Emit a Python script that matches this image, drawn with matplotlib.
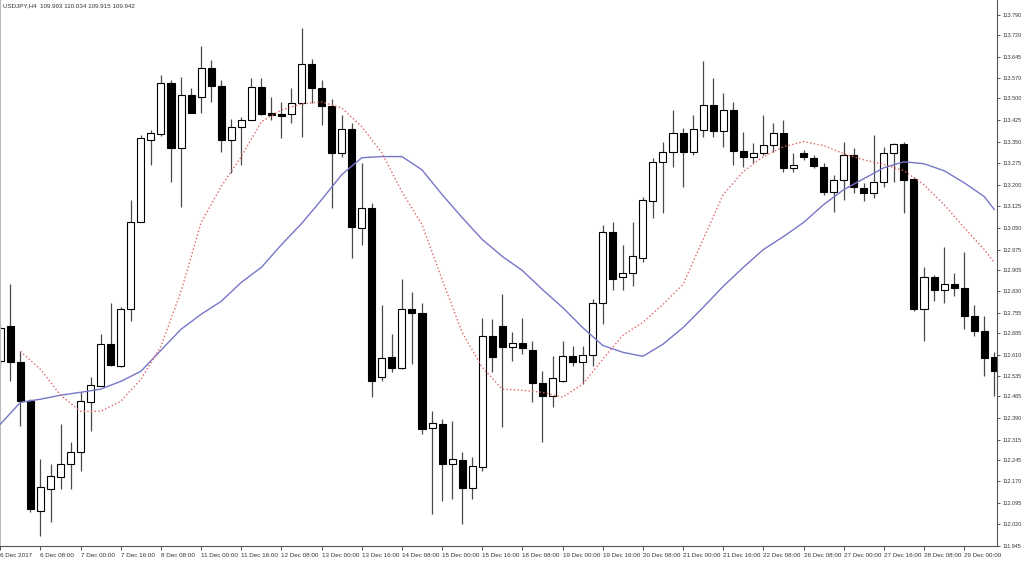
import matplotlib.pyplot as plt
import numpy as np

# USDJPY H4 candles, 6 Dec - 29 Dec 2017
opens = [112.587, 112.708, 112.583, 112.448, 112.066, 112.143, 112.184, 112.229, 112.271, 112.444,
         112.500, 112.646, 112.569, 112.767, 113.069, 113.356, 113.377, 113.554, 113.329, 113.512,
         113.506, 113.606, 113.544, 113.356, 113.402, 113.426, 113.540, 113.450, 113.447, 113.447,
         113.485, 113.620, 113.537, 113.474, 113.311, 113.395, 113.051, 113.121, 112.531, 112.600,
         112.562, 112.770, 112.756, 112.354, 112.368, 112.229, 112.243, 112.146, 112.219, 112.673,
         112.711, 112.635, 112.652, 112.625, 112.510, 112.465, 112.517, 112.604, 112.583, 112.607,
         112.791, 113.037, 112.878, 112.895, 112.947, 113.142, 113.280, 113.315, 113.381, 113.315,
         113.391, 113.478, 113.388, 113.460, 113.318, 113.298, 113.311, 113.339, 113.381, 113.259,
         113.311, 113.294, 113.263, 113.176, 113.218, 113.304, 113.190, 113.173, 113.211, 113.311,
         113.343, 113.221, 112.767, 112.881, 112.836, 112.857, 112.840, 112.743, 112.691, 112.600]
highs = [112.715, 112.854, 112.621, 112.455, 112.247, 112.229, 112.368, 112.306, 112.479, 112.531,
         112.680, 112.791, 112.774, 113.148, 113.374, 113.391, 113.582, 113.565, 113.575, 113.537,
         113.682, 113.634, 113.565, 113.429, 113.436, 113.571, 113.571, 113.506, 113.488, 113.537,
         113.745, 113.637, 113.565, 113.499, 113.443, 113.415, 113.277, 113.138, 112.784, 112.680,
         112.871, 112.826, 112.791, 112.413, 112.385, 112.379, 112.271, 112.254, 112.736, 112.732,
         112.819, 112.687, 112.736, 112.656, 112.552, 112.604, 112.656, 112.639, 112.639, 112.802,
         113.062, 113.069, 112.992, 113.069, 113.159, 113.294, 113.350, 113.460, 113.398, 113.443,
         113.630, 113.571, 113.519, 113.488, 113.384, 113.346, 113.443, 113.415, 113.426, 113.311,
         113.322, 113.304, 113.277, 113.235, 113.350, 113.329, 113.207, 113.374, 113.332, 113.346,
         113.350, 113.228, 112.916, 112.888, 112.985, 112.895, 112.965, 112.784, 112.743, 112.618]
lows = [112.569, 112.517, 112.361, 112.063, 111.980, 112.028, 112.143, 112.143, 112.205, 112.344,
        112.500, 112.569, 112.566, 112.725, 113.069, 113.270, 113.370, 113.211, 113.124, 113.450,
        113.450, 113.488, 113.315, 113.242, 113.270, 113.426, 113.443, 113.426, 113.363, 113.415,
        113.367, 113.485, 113.408, 113.121, 113.298, 112.947, 112.992, 112.462, 112.517, 112.548,
        112.559, 112.576, 112.333, 112.056, 112.101, 112.108, 112.021, 112.108, 112.205, 112.548,
        112.358, 112.587, 112.611, 112.444, 112.306, 112.427, 112.514, 112.569, 112.507, 112.569,
        112.715, 112.836, 112.836, 112.847, 112.933, 113.086, 113.103, 113.263, 113.194, 113.304,
        113.367, 113.367, 113.332, 113.270, 113.263, 113.277, 113.304, 113.315, 113.246, 113.246,
        113.287, 113.259, 113.166, 113.107, 113.148, 113.173, 113.142, 113.155, 113.194, 113.211,
        113.103, 112.760, 112.656, 112.795, 112.791, 112.812, 112.698, 112.673, 112.535, 112.465]
closes = [112.704, 112.583, 112.448, 112.073, 112.150, 112.188, 112.229, 112.271, 112.448, 112.503,
          112.646, 112.573, 112.767, 113.072, 113.363, 113.381, 113.554, 113.329, 113.512, 113.450,
          113.606, 113.544, 113.356, 113.402, 113.426, 113.540, 113.447, 113.443, 113.440, 113.485,
          113.620, 113.537, 113.474, 113.311, 113.395, 113.055, 113.121, 112.517, 112.597, 112.562,
          112.770, 112.756, 112.351, 112.372, 112.229, 112.247, 112.146, 112.222, 112.673, 112.600,
          112.635, 112.652, 112.632, 112.510, 112.465, 112.528, 112.604, 112.583, 112.607, 112.791,
          113.037, 112.874, 112.895, 112.951, 113.148, 113.280, 113.315, 113.381, 113.315, 113.395,
          113.478, 113.388, 113.460, 113.318, 113.298, 113.311, 113.339, 113.381, 113.259, 113.270,
          113.298, 113.266, 113.176, 113.218, 113.304, 113.194, 113.173, 113.211, 113.311, 113.343,
          113.218, 112.767, 112.881, 112.836, 112.857, 112.843, 112.743, 112.691, 112.597, 112.552]

# moving averages (bar index, price)
slow_ma_idx = list(range(0, 100, 2)) + [99]
slow_ma = [112.368, 112.444, 112.455, 112.469, 112.479, 112.490, 112.517, 112.552, 112.625, 112.698,
           112.750, 112.795, 112.861, 112.913, 112.992, 113.065, 113.148, 113.235, 113.294, 113.298,
           113.298, 113.252, 113.166, 113.086, 113.010, 112.951, 112.902, 112.836, 112.774, 112.704,
           112.642, 112.618, 112.604, 112.646, 112.704, 112.774, 112.847, 112.913, 112.975, 113.020,
           113.069, 113.131, 113.183, 113.221, 113.259, 113.280, 113.273, 113.249, 113.207, 113.159,
           113.114]
fast_ma_idx = list(range(2, 100, 2)) + [99]
fast_ma = [112.621, 112.559, 112.469, 112.413, 112.413, 112.448, 112.524, 112.639, 112.829, 113.069,
           113.194, 113.298, 113.419, 113.460, 113.481, 113.488, 113.467, 113.402, 113.311, 113.176,
           113.062, 112.871, 112.687, 112.566, 112.490, 112.486, 112.479, 112.462, 112.507, 112.594,
           112.677, 112.722, 112.784, 112.854, 113.010, 113.166, 113.246, 113.298, 113.332, 113.350,
           113.336, 113.308, 113.287, 113.270, 113.249, 113.200, 113.131, 113.051, 112.975, 112.930]

price_ticks = [113.790, 113.720, 113.645, 113.570, 113.500, 113.425, 113.350, 113.275, 113.200,
               113.125, 113.050, 112.975, 112.905, 112.830, 112.755, 112.685, 112.610, 112.535,
               112.465, 112.390, 112.315, 112.245, 112.170, 112.095, 112.020, 111.945]
time_labels = ['6 Dec 2017', '6 Dec 08:00', '7 Dec 00:00', '7 Dec 16:00', '8 Dec 08:00',
               '11 Dec 00:00', '11 Dec 16:00', '12 Dec 08:00', '13 Dec 00:00', '13 Dec 16:00',
               '14 Dec 08:00', '15 Dec 00:00', '15 Dec 16:00', '18 Dec 08:00', '19 Dec 00:00',
               '19 Dec 16:00', '20 Dec 08:00', '21 Dec 00:00', '21 Dec 16:00', '22 Dec 08:00',
               '26 Dec 08:00', '27 Dec 00:00', '27 Dec 16:00', '28 Dec 08:00', '29 Dec 00:00']
header = 'USDJPY,H4  109.993 110.034 109.915 109.942'

plt.rcParams['font.family'] = ['Liberation Sans', 'DejaVu Sans']

o = np.array(opens)
h = np.array(highs)
l = np.array(lows)
c = np.array(closes)
x = np.arange(len(o))
up = c >= o

fig = plt.figure(figsize=(10.24, 5.62), dpi=100)
ax = fig.add_axes([0, 16 / 562, 997 / 1024, 546 / 562])

ax.vlines(x, l, h, color='#4a4a4a', lw=0.9, zorder=1)
ax.bar(x, np.abs(c - o), bottom=np.minimum(o, c), width=0.7,
       color=np.where(up, 'white', 'black'), edgecolor='black', lw=0.8, zorder=2)

ax.plot(slow_ma_idx, slow_ma, '-', color='#7676c8', lw=1.0, zorder=3)
ax.plot(fast_ma_idx, fast_ma, ':', color='#e06464', lw=1.0, zorder=3)

ax.set_xlim(-0.03, 99.27)
ax.set_ylim(111.9485, 113.842)

ax.yaxis.tick_right()
ax.set_yticks(price_ticks)
ax.set_yticklabels([f'{v:.3f}' for v in price_ticks])
ax.tick_params(axis='y', direction='out', length=2.5, width=0.6, pad=1.5, labelsize=3.9,
               colors='#333333')

ax.set_xticks(range(0, 100, 4))
ax.set_xticklabels(time_labels, ha='left')
ax.tick_params(axis='x', direction='out', length=3, width=0.6, pad=2, labelsize=4.5,
               colors='#333333')

ax.spines['top'].set_visible(False)
ax.spines['left'].set_color('#bbbbbb')
ax.spines['right'].set_color('#555555')
ax.spines['bottom'].set_color('#555555')
for s in ax.spines.values():
    s.set_linewidth(0.8)

fig.text(3 / 1024, 1 - 6 / 562, header, fontsize=4.5, color='#333333', va='center')

plt.savefig('out.png', dpi=100)
